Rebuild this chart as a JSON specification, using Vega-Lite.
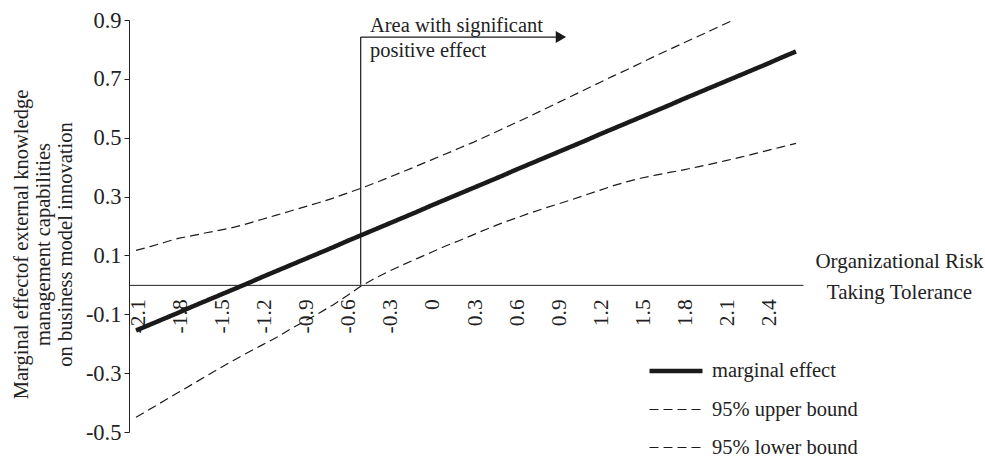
{
  "$schema": "https://vega.github.io/schema/vega-lite/v6.json",
  "width": 674,
  "height": 412,
  "autosize": "none",
  "padding": {"left": 129, "top": 20, "right": 182, "bottom": 26},
  "background": "white",
  "config": {
    "view": {"stroke": null},
    "font": "Liberation Serif",
    "axis": {"labelFont": "Liberation Serif", "titleFont": "Liberation Serif", "labelColor": "#222", "titleColor": "#222", "domainColor": "#222", "tickColor": "#222", "grid": false, "titleFontWeight": "normal"},
    "legend": {"labelFont": "Liberation Serif", "labelColor": "#222"}
  },
  "datasets": {
    "curves": [
      {"x": -2.1, "me": -0.155, "upper": 0.117, "lower": -0.450},
      {"x": -2.0, "me": -0.135, "upper": 0.130, "lower": -0.422},
      {"x": -1.9, "me": -0.115, "upper": 0.144, "lower": -0.394},
      {"x": -1.8, "me": -0.095, "upper": 0.158, "lower": -0.366},
      {"x": -1.7, "me": -0.074, "upper": 0.167, "lower": -0.338},
      {"x": -1.6, "me": -0.054, "upper": 0.177, "lower": -0.310},
      {"x": -1.5, "me": -0.034, "upper": 0.186, "lower": -0.282},
      {"x": -1.4, "me": -0.014, "upper": 0.196, "lower": -0.255},
      {"x": -1.3, "me": 0.006, "upper": 0.209, "lower": -0.229},
      {"x": -1.2, "me": 0.027, "upper": 0.223, "lower": -0.204},
      {"x": -1.1, "me": 0.047, "upper": 0.237, "lower": -0.179},
      {"x": -1.0, "me": 0.067, "upper": 0.251, "lower": -0.150},
      {"x": -0.9, "me": 0.087, "upper": 0.265, "lower": -0.124},
      {"x": -0.8, "me": 0.107, "upper": 0.279, "lower": -0.097},
      {"x": -0.7, "me": 0.127, "upper": 0.294, "lower": -0.069},
      {"x": -0.6, "me": 0.148, "upper": 0.311, "lower": -0.038},
      {"x": -0.5, "me": 0.168, "upper": 0.328, "lower": -0.005},
      {"x": -0.4, "me": 0.188, "upper": 0.346, "lower": 0.022},
      {"x": -0.3, "me": 0.208, "upper": 0.365, "lower": 0.046},
      {"x": -0.2, "me": 0.228, "upper": 0.384, "lower": 0.068},
      {"x": -0.1, "me": 0.248, "upper": 0.404, "lower": 0.089},
      {"x": 0.0, "me": 0.269, "upper": 0.424, "lower": 0.110},
      {"x": 0.1, "me": 0.289, "upper": 0.444, "lower": 0.131},
      {"x": 0.2, "me": 0.309, "upper": 0.464, "lower": 0.150},
      {"x": 0.3, "me": 0.329, "upper": 0.484, "lower": 0.170},
      {"x": 0.4, "me": 0.349, "upper": 0.506, "lower": 0.190},
      {"x": 0.5, "me": 0.369, "upper": 0.528, "lower": 0.209},
      {"x": 0.6, "me": 0.390, "upper": 0.550, "lower": 0.226},
      {"x": 0.7, "me": 0.410, "upper": 0.572, "lower": 0.243},
      {"x": 0.8, "me": 0.430, "upper": 0.595, "lower": 0.259},
      {"x": 0.9, "me": 0.450, "upper": 0.618, "lower": 0.274},
      {"x": 1.0, "me": 0.470, "upper": 0.641, "lower": 0.289},
      {"x": 1.1, "me": 0.490, "upper": 0.664, "lower": 0.305},
      {"x": 1.2, "me": 0.511, "upper": 0.687, "lower": 0.321},
      {"x": 1.3, "me": 0.531, "upper": 0.710, "lower": 0.337},
      {"x": 1.4, "me": 0.551, "upper": 0.732, "lower": 0.351},
      {"x": 1.5, "me": 0.571, "upper": 0.755, "lower": 0.363},
      {"x": 1.6, "me": 0.591, "upper": 0.778, "lower": 0.373},
      {"x": 1.7, "me": 0.611, "upper": 0.800, "lower": 0.382},
      {"x": 1.8, "me": 0.632, "upper": 0.822, "lower": 0.391},
      {"x": 1.9, "me": 0.652, "upper": 0.844, "lower": 0.401},
      {"x": 2.0, "me": 0.672, "upper": 0.866, "lower": 0.411},
      {"x": 2.1, "me": 0.692, "upper": 0.888, "lower": 0.422},
      {"x": 2.2, "me": 0.712, "upper": 0.910, "lower": 0.433},
      {"x": 2.3, "me": 0.732, "upper": 0.932, "lower": 0.445},
      {"x": 2.4, "me": 0.752, "upper": 0.954, "lower": 0.457},
      {"x": 2.5, "me": 0.773, "upper": 0.976, "lower": 0.469},
      {"x": 2.6, "me": 0.793, "upper": 0.998, "lower": 0.481}
    ],
    "vline": [{"x": -0.5, "y": 0, "y2": 0.842}],
    "hline": [{"x": -0.5, "x2": 0.93, "y": 0.842}],
    "arrow": [{"x": 0.926, "y": 0.842}],
    "notes": [
      {"x": -0.434, "y": 0.859, "text": "Area with significant"},
      {"x": -0.434, "y": 0.774, "text": "positive effect"}
    ]
  },
  "encoding": {
    "x": {
      "field": "x", "type": "quantitative",
      "scale": {"domain": [-2.15, 2.65], "nice": false, "zero": false},
      "axis": {
        "values": [-2.1, -1.8, -1.5, -1.2, -0.9, -0.6, -0.3, 0, 0.3, 0.6, 0.9, 1.2, 1.5, 1.8, 2.1, 2.4],
        "labelExpr": "datum.value + ''",
        "offset": -147.14,
        "ticks": false,
        "labelAngle": 270,
        "labelAlign": "right",
        "labelBaseline": "middle",
        "labelPadding": 14,
        "labelOffset": 2,
        "labelFontSize": 21.5,
        "labelOverlap": false,
        "labelBound": false,
        "labelFlush": false,
        "title": ["Organizational Risk", "Taking Tolerance"],
        "titleFontSize": 21,
        "titleX": 770,
        "titleY": -17,
        "titleAlign": "center",
        "titleAnchor": null,
        "titleBaseline": "alphabetic",
        "titleAngle": 0,
        "titleLineHeight": 31
      }
    },
    "y": {
      "field": "y", "type": "quantitative",
      "scale": {"domain": [-0.5, 0.9], "nice": false, "zero": false},
      "axis": {
        "values": [-0.5, -0.3, -0.1, 0.1, 0.3, 0.5, 0.7, 0.9],
        "labelExpr": "replace(format(datum.value, '.1f'), '\u2212', '-')",
        "tickSize": 5,
        "labelPadding": 3,
        "labelFontSize": 22.5,
        "labelOverlap": false,
        "labelBound": false,
        "labelFlush": false,
        "title": ["Marginal effectof external knowledge", "management capabilities", "on business model innovation"],
        "titleFontSize": 20.5,
        "titleLineHeight": 22,
        "titleX": -118,
        "titleY": 224,
        "titleAngle": 270,
        "titleAlign": "center",
        "titleAnchor": null,
        "titleBaseline": "top"
      }
    }
  },
  "layer": [
    {
      "data": {"name": "curves"},
      "transform": [{"fold": ["me", "upper", "lower"], "as": ["series", "y"]}],
      "mark": {"type": "line", "color": "#1a1a1a", "clip": true},
      "encoding": {
        "strokeDash": {
          "field": "series", "type": "nominal",
          "scale": {"domain": ["me", "upper", "lower"], "range": [[1, 0], [9, 5], [9, 5]]},
          "legend": {
            "title": null, "orient": "none", "legendX": 518, "legendY": 322, "padding": 0,
            "symbolType": "stroke", "symbolSize": 2809, "symbolStrokeColor": "#1a1a1a",
            "labelFontSize": 20.5, "labelOffset": 7, "rowPadding": -14,
            "labelExpr": "datum.label == 'me' ? 'marginal effect' : datum.label == 'upper' ? '95% upper bound' : '95% lower bound'"
          }
        },
        "strokeWidth": {
          "field": "series", "type": "nominal",
          "scale": {"type": "ordinal", "domain": ["me", "upper", "lower"], "range": [4.5, 1.2, 1.2]},
          "legend": {
            "title": null, "orient": "none", "legendX": 518, "legendY": 322, "padding": 0,
            "symbolType": "stroke", "symbolSize": 2809, "symbolStrokeColor": "#1a1a1a",
            "labelFontSize": 20.5, "labelOffset": 7, "rowPadding": -14,
            "labelExpr": "datum.label == 'me' ? 'marginal effect' : datum.label == 'upper' ? '95% upper bound' : '95% lower bound'"
          }
        }
      }
    },
    {
      "data": {"name": "vline"},
      "mark": {"type": "rule", "color": "#1a1a1a", "strokeWidth": 1.2},
      "encoding": {
        "y2": {"field": "y2"}
      }
    },
    {
      "data": {"name": "hline"},
      "mark": {"type": "rule", "color": "#1a1a1a", "strokeWidth": 1.2},
      "encoding": {
        "x2": {"field": "x2"}
      }
    },
    {
      "data": {"name": "arrow"},
      "mark": {"type": "point", "shape": "triangle-right", "filled": true, "color": "#1a1a1a", "size": 144, "opacity": 1},
      "encoding": {}
    },
    {
      "data": {"name": "notes"},
      "mark": {"type": "text", "font": "Liberation Serif", "fontSize": 20.5, "align": "left", "baseline": "alphabetic", "color": "#222"},
      "encoding": {
        "text": {"field": "text"}
      }
    }
  ]
}
